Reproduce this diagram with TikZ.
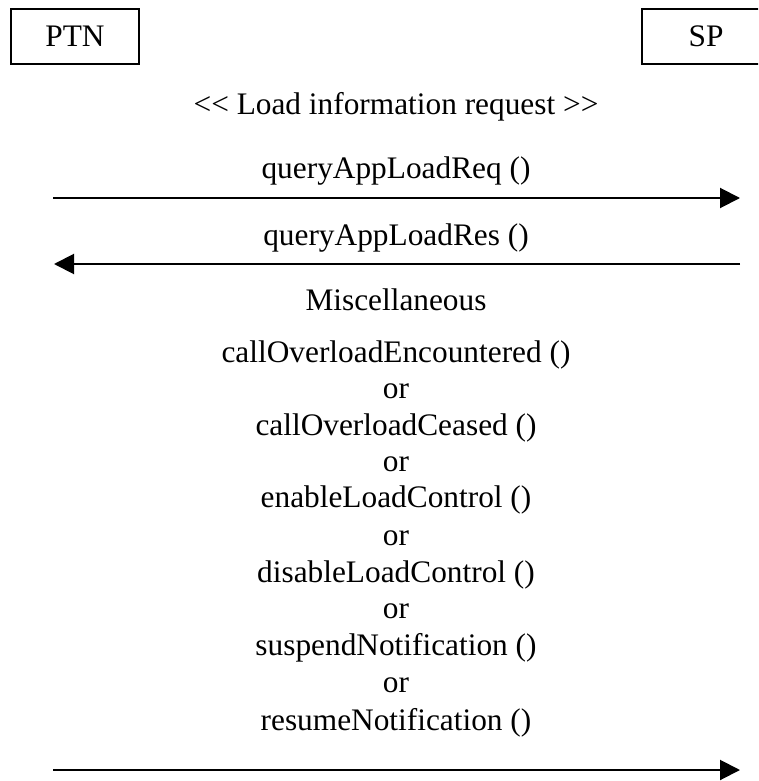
\documentclass[tikz,border=0pt]{standalone}
\usepackage{fontspec}
\setmainfont{Liberation Serif}
\usetikzlibrary{arrows.meta}
\begin{document}
\begin{tikzpicture}[x=0.75pt,y=-0.75pt,
  ent/.style={draw,line width=1.4pt,minimum width=96pt,minimum height=41pt,inner sep=0pt,font=\fontsize{23.5}{28}\selectfont},
  lbl/.style={anchor=base,inner sep=0pt,font=\fontsize{23.5}{28}\selectfont},
  msg/.style={line width=1.5pt,-{Triangle[length=15pt,width=15pt]}}]
\clip (0,0) rectangle (758,781);
\fill[white] (0,0) rectangle (758,781);
\node[ent] (ptn) at (75,36.5) {PTN};
\node[ent] (sp) at (706,36.5) {SP};
\node[lbl] (t0) at (396,115) {<\kern0pt< Load information request >\kern0pt>};
\node[lbl] (t1) at (396,179) {queryAppLoadReq ()};
\node[lbl] (t2) at (396,245) {queryAppLoadRes ()};
\node[lbl] (t3) at (396,310) {Miscellaneous};
\node[lbl] (m1) at (396,362) {callOverloadEncountered ()};
\node[lbl] (o1) at (396,398) {or};
\node[lbl] (m2) at (396,435) {callOverloadCeased ()};
\node[lbl] (o2) at (396,471) {or};
\node[lbl] (m3) at (396,507) {enableLoadControl ()};
\node[lbl] (o3) at (396,545) {or};
\node[lbl] (m4) at (396,582) {disableLoadControl ()};
\node[lbl] (o4) at (396,618) {or};
\node[lbl] (m5) at (396,655) {suspendNotification ()};
\node[lbl] (o5) at (396,692) {or};
\node[lbl] (m6) at (396,730) {resumeNotification ()};
\coordinate (a1s) at (53,198);
\coordinate (a1e) at (740,198);
\coordinate (a2s) at (740,264);
\coordinate (a2e) at (54,264);
\coordinate (a3s) at (53,770);
\coordinate (a3e) at (740,770);
\draw[msg] (a1s) -- (a1e);
\draw[msg] (a2s) -- (a2e);
\draw[msg] (a3s) -- (a3e);
\end{tikzpicture}
\end{document}
